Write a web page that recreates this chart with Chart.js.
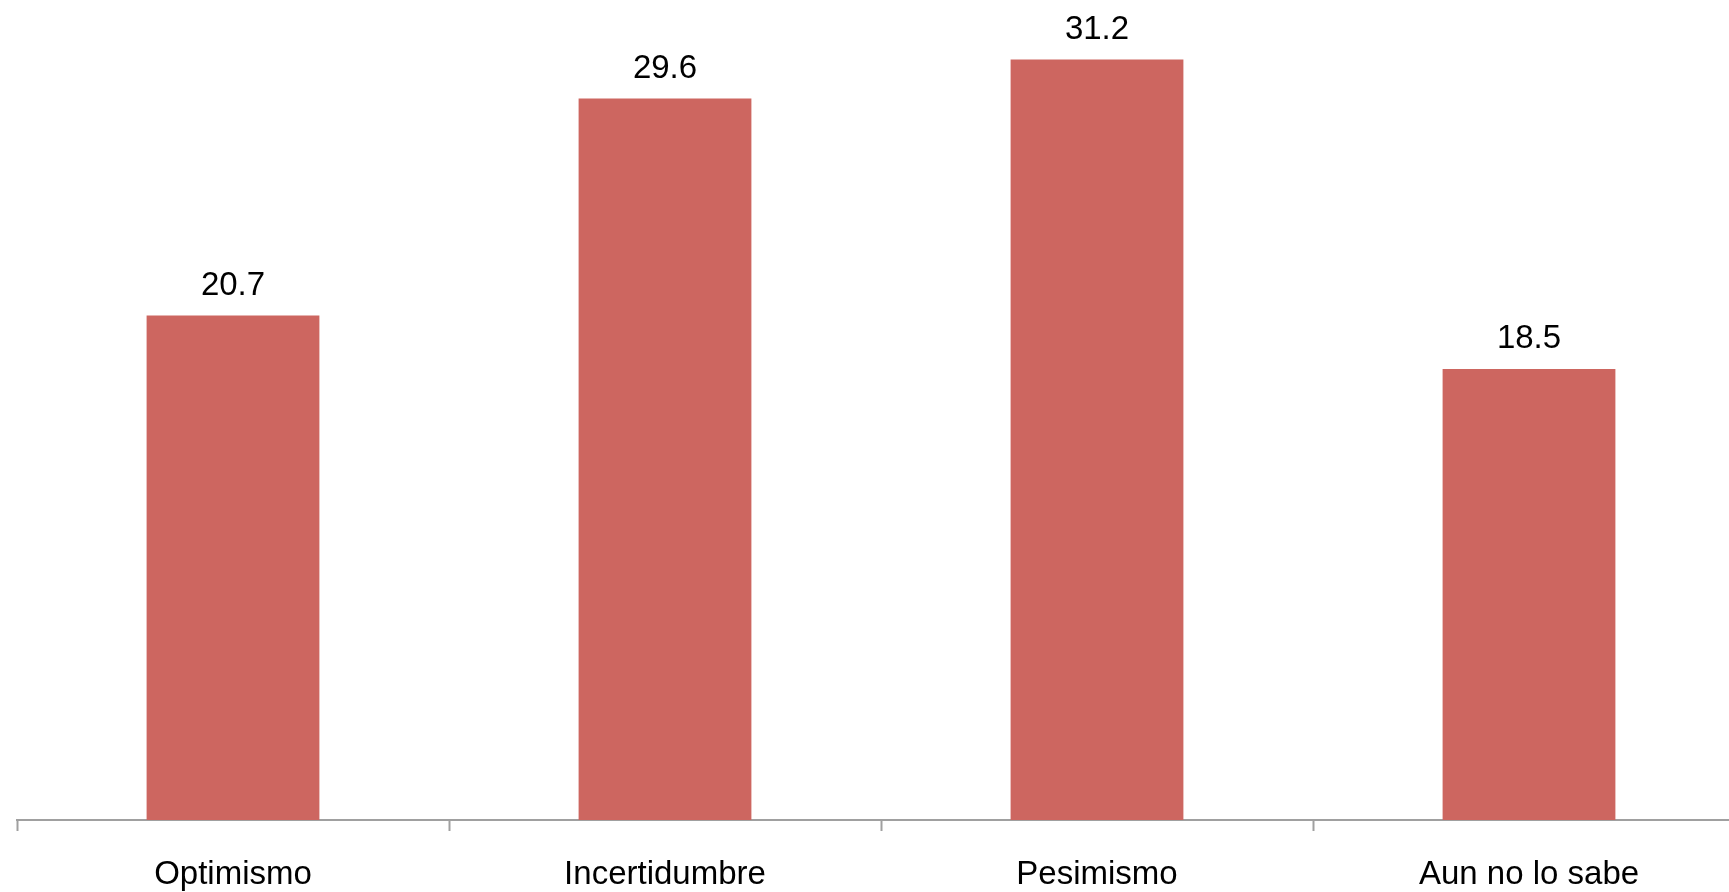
<!DOCTYPE html>
<html>
<head>
<meta charset="utf-8">
<script src="https://cdn.jsdelivr.net/npm/chart.js@4"></script>
<style>
    html, body { margin: 0; padding: 0; background: #fff; overflow: hidden; }
    #wrap { position: relative; width: 1760px; height: 892px; }
</style>
</head>
<body>
<div id="wrap"><canvas id="chart"></canvas></div>
<script>
// --- DATA ---
const categories = ['Optimismo', 'Incertidumbre', 'Pesimismo', 'Aun no lo sabe'];
const values = [20.7, 29.6, 31.2, 18.5];

const BAR_COLOR = '#cd6660';
const AXIS_COLOR = '#a0a0a0';
const FONT = '"Liberation Sans", Arial, Helvetica, sans-serif';

// value labels above each bar
const valueLabels = {
    id: 'valueLabels',
    afterDatasetsDraw(chart) {
        const ctx = chart.ctx;
        const meta = chart.getDatasetMeta(0);
        ctx.save();
        ctx.font = '33px ' + FONT;
        ctx.fillStyle = '#000';
        ctx.textAlign = 'center';
        ctx.textBaseline = 'middle';
        meta.data.forEach((bar, i) => {
            ctx.fillText(values[i].toFixed(1), bar.x, bar.y - 30);
        });
        ctx.restore();
    }
};

new Chart(document.getElementById('chart'), {
    type: 'bar',
    data: {
        labels: categories,
        datasets: [{
            data: values,
            backgroundColor: BAR_COLOR,
            borderWidth: 0,
            barPercentage: 0.8,
            categoryPercentage: 0.5
        }]
    },
    options: {
        responsive: true,
        maintainAspectRatio: false,
        animation: false,
        layout: { padding: { left: 17, right: 15, top: 1, bottom: 0 } },
        plugins: {
            legend: { display: false },
            tooltip: { enabled: false }
        },
        scales: {
            x: {
                afterFit: (scale) => { scale.height = 72; },
                grid: {
                    display: true,
                    drawOnChartArea: false,
                    drawTicks: true,
                    tickLength: 11,
                    tickWidth: 2,
                    tickColor: AXIS_COLOR
                },
                border: { display: true, color: AXIS_COLOR, width: 2 },
                ticks: {
                    color: '#000',
                    padding: 24,
                    font: { family: FONT, size: 33 },
                    maxRotation: 0
                }
            },
            y: {
                display: false,
                min: 0,
                max: 33.6
            }
        }
    },
    plugins: [valueLabels]
});
</script>
</body>
</html>
